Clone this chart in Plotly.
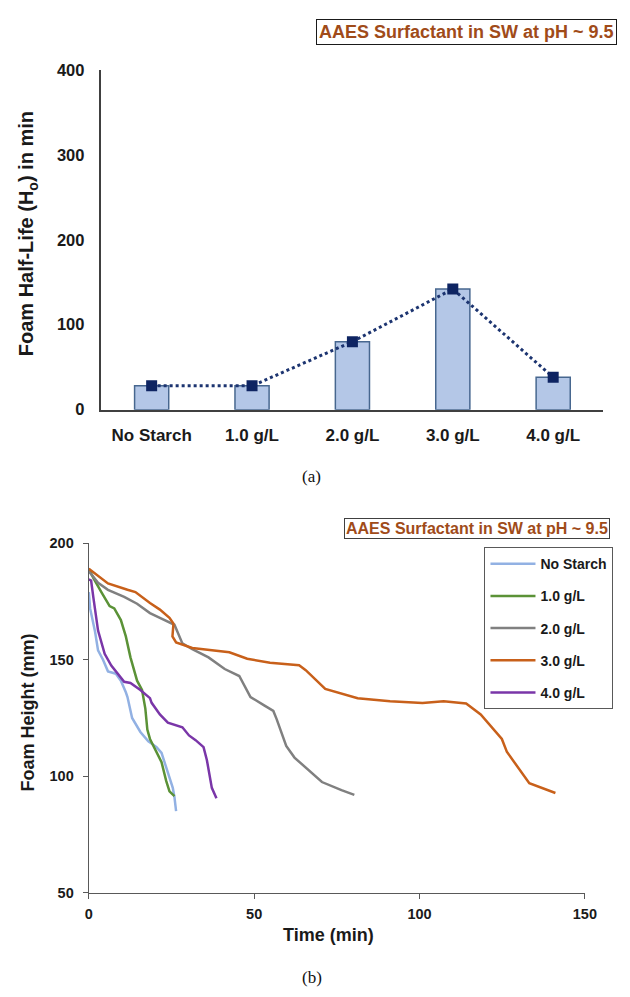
import plotly.graph_objects as go

# ---- panel (a): foam half-life by starch concentration ----
categories = ["No Starch", "1.0 g/L", "2.0 g/L", "3.0 g/L", "4.0 g/L"]
half_life = [28, 28, 80, 142, 38]

# ---- panel (b): foam height decay curves ----
series_names = ["No Starch", "1.0 g/L", "2.0 g/L", "3.0 g/L", "4.0 g/L"]

no_starch_t = [0, 0.4, 1.9, 2.8, 4.3, 5.8, 8.2, 9.7, 11.2, 11.7, 13.1, 15.6, 18.0, 20.5, 22.0, 23.4, 25.4, 25.9, 26.4]
no_starch_h = [179, 172, 162, 154, 150, 145, 144, 141, 136, 134, 125, 119, 115, 112.5, 110, 104, 95, 91, 85]

g1_t = [0, 1.4, 3.8, 6.3, 7.7, 9.7, 11.2, 12.6, 14.6, 16.1, 17.1, 17.7, 18.5, 20.5, 22.0, 23.4, 24.4, 25.9]
g1_h = [189, 185, 179, 173, 172, 167, 160, 151, 141, 137, 129, 120, 116, 110, 106, 98, 93.5, 91.5]

g2_t = [0, 2.8, 5.8, 10.7, 14.6, 18.5, 21.5, 25.9, 28.3, 31.3, 36.2, 41.1, 45.5, 48.9, 52.9, 55.8, 56.8, 59.7, 62.2, 66.6, 70.5, 76.4, 80.3]
g2_h = [188, 183, 180, 177, 174, 170, 168, 165, 157, 154.5, 151, 146, 143, 134, 130.5, 128, 124.5, 113, 108, 102.5, 97.5, 94, 92]

g3_t = [0, 5.8, 11.7, 14.1, 18.5, 21.5, 24.4, 25.6, 25.3, 26.4, 31.3, 36.2, 42.5, 47.9, 54.8, 63.6, 65.6, 71.5, 81.3, 91.1, 100.9, 107.3, 114.1, 118.5, 121.9, 124.9, 126.4, 130.3, 133.2, 141.1]
g3_h = [189, 182.7, 180, 179, 174.3, 171.5, 168, 165.5, 160, 157.4, 155, 154.3, 153.2, 150.4, 148.7, 147.6, 145.5, 137.5, 133.5, 132.2, 131.4, 132.2, 131.2, 126.5, 121, 116, 110.5, 102.7, 97, 92.8]

g4_t = [0, 0.7, 1.4, 2.8, 4.8, 6.8, 10.7, 12.6, 15.6, 18.5, 19.0, 21.5, 23.9, 28.3, 30.3, 32.3, 34.7, 35.7, 37.2, 38.6]
g4_h = [184.5, 184, 176.5, 162.5, 152.5, 147.5, 140.5, 140, 137, 133.5, 131.5, 126.5, 123, 121, 117.5, 115.5, 112.5, 107, 95, 90.5]

curve_times = [no_starch_t, g1_t, g2_t, g3_t, g4_t]
curve_heights = [no_starch_h, g1_h, g2_h, g3_h, g4_h]
curve_colors = ["#92b1e3", "#5b9237", "#808080", "#c8601a", "#7a36a8"]

W, H = 630, 997


def px_x(p):
    return p / W


def px_y(p):
    return 1 - p / H


FONT = "Liberation Sans"
AXIS_COL = "#404040"
BROWN = "#a04b19"

fig = go.Figure()

fig.add_trace(go.Bar(
    x=categories, y=half_life, width=0.34,
    marker=dict(color="#b4c7e7", line=dict(color="#47678f", width=1.5)),
    xaxis="x", yaxis="y", showlegend=False,
))
fig.add_trace(go.Scatter(
    x=categories, y=half_life, mode="lines+markers",
    line=dict(color="#1c3470", width=3, dash="dot"),
    marker=dict(symbol="square", size=11, color="#0e2462"),
    xaxis="x", yaxis="y", showlegend=False,
))

for name, t, h, c in zip(series_names, curve_times, curve_heights, curve_colors):
    fig.add_trace(go.Scatter(
        x=t, y=h, mode="lines", name=name, legendgroup=name,
        line=dict(color=c, width=2.5),
        xaxis="x2", yaxis="y2",
    ))

bold = dict(family=FONT, weight="bold", color="#1a1a1a")

fig.update_layout(
    width=W, height=H,
    margin=dict(l=0, r=0, t=0, b=0),
    paper_bgcolor="white", plot_bgcolor="white",
    font=dict(family=FONT, color="#1a1a1a"),
    xaxis=dict(
        domain=[px_x(100), px_x(615)], anchor="y",
        type="category", range=[-0.5, 4.5],
        showline=True, linecolor=AXIS_COL, linewidth=1.5,
        ticks="", showgrid=False, zeroline=False,
        tickfont=dict(size=17, **bold), ticklabelstandoff=9,
    ),
    yaxis=dict(
        domain=[px_y(408), px_y(62)], anchor="x",
        range=[0, 400], tickvals=[0, 100, 200, 300, 400],
        showline=True, linecolor=AXIS_COL, linewidth=1.5,
        ticks="", showgrid=False, zeroline=False,
        tickfont=dict(size=16.5, **bold), ticklabelstandoff=12,
    ),
    xaxis2=dict(
        domain=[px_x(87), px_x(596)], anchor="y2",
        range=[0, 150], tickvals=[0, 50, 100, 150],
        showline=True, linecolor="#595959", linewidth=1.3,
        ticks="outside", ticklen=5, tickcolor="#595959",
        showgrid=False, zeroline=False,
        tickfont=dict(size=14.5, **bold), ticklabelstandoff=3,
    ),
    yaxis2=dict(
        domain=[px_y(900), px_y(544)], anchor="x2",
        range=[50, 200], tickvals=[50, 100, 150, 200],
        showline=True, linecolor="#595959", linewidth=1.3,
        ticks="outside", ticklen=5, tickcolor="#595959",
        showgrid=False, zeroline=False,
        tickfont=dict(size=14.5, **bold), ticklabelstandoff=6,
    ),
    legend=dict(
        x=px_x(493), y=px_y(548), xanchor="left", yanchor="top",
        bgcolor="white", bordercolor="#595959", borderwidth=1,
        font=dict(size=14, **bold), tracegroupgap=11,
        itemwidth=45,
    ),
)

ann = []
# titles in framed boxes
ann.append(dict(
    text="AAES Surfactant in SW at pH ~ 9.5", xref="paper", yref="paper",
    x=px_x(475), y=px_y(23), xanchor="center", yanchor="middle",
    showarrow=False, font=dict(family=FONT, size=18, weight="bold", color=BROWN),
    bordercolor="#1a1a1a", borderwidth=1, borderpad=2, bgcolor="white",
))
ann.append(dict(
    text="AAES Surfactant in SW at pH ~ 9.5", xref="paper", yref="paper",
    x=px_x(485), y=px_y(529.5), xanchor="center", yanchor="middle",
    showarrow=False, font=dict(family=FONT, size=16, weight="bold", color=BROWN),
    bordercolor="#404040", borderwidth=1, borderpad=1, bgcolor="white",
))
# axis titles
ann.append(dict(
    text="Foam Half-Life (H<sub>o</sub>) in min", xref="paper", yref="paper",
    x=px_x(25), y=px_y(229), xanchor="center", yanchor="middle", textangle=-90,
    showarrow=False, font=dict(family=FONT, size=20, weight="bold", color="#1a1a1a"),
))
ann.append(dict(
    text="Foam Height (mm)", xref="paper", yref="paper",
    x=px_x(25), y=px_y(716), xanchor="center", yanchor="middle", textangle=-90,
    showarrow=False, font=dict(family=FONT, size=18, weight="bold", color="#1a1a1a"),
))
ann.append(dict(
    text="Time (min)", xref="paper", yref="paper",
    x=px_x(333), y=px_y(943), xanchor="center", yanchor="middle",
    showarrow=False, font=dict(family=FONT, size=18, weight="bold", color="#1a1a1a"),
))
# panel captions
ann.append(dict(
    text="(a)", xref="paper", yref="paper",
    x=px_x(316), y=px_y(476), xanchor="center", yanchor="middle",
    showarrow=False, font=dict(family="Liberation Serif", size=17, color="#111111"),
))
ann.append(dict(
    text="(b)", xref="paper", yref="paper",
    x=px_x(316), y=px_y(986), xanchor="center", yanchor="middle",
    showarrow=False, font=dict(family="Liberation Serif", size=17, color="#111111"),
))
fig.update_layout(annotations=ann)

fig.write_html("out.html")
